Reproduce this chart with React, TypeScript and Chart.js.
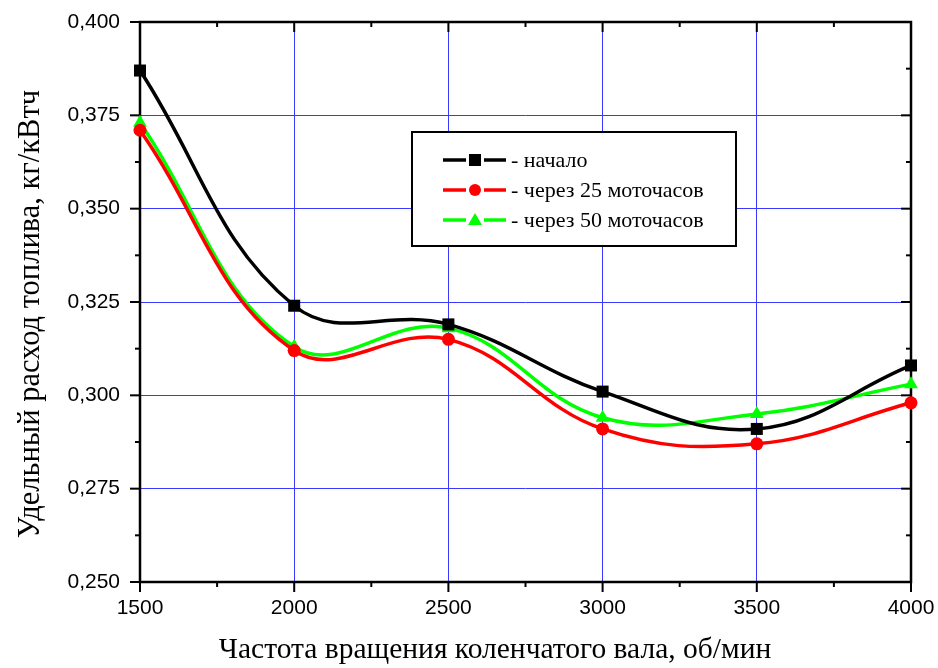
import React, { useEffect, useRef } from 'react';
import { Chart, registerables } from 'chart.js';

Chart.register(...registerables);

// ---- data ----
const rpm = [1500, 2000, 2500, 3000, 3500, 4000];
const seriesStart = [0.387, 0.324, 0.319, 0.301, 0.291, 0.308];
const series25 = [0.371, 0.312, 0.315, 0.291, 0.287, 0.298];
const series50 = [0.373, 0.313, 0.318, 0.294, 0.295, 0.303];
const seriesNames = ['- начало', '- через 25 моточасов', '- через 50 моточасов'];
const xTickValues = [1500, 2000, 2500, 3000, 3500, 4000];
const yTickValues = [0.25, 0.275, 0.3, 0.325, 0.35, 0.375, 0.4];
const xTitle = 'Частота вращения коленчатого вала, об/мин';
const yTitle = 'Удельный расход топлива, кг/кВтч';

const COLORS = ['#000000', '#ff0000', '#00ff00'];
const STYLES = ['rect', 'circle', 'triangle'];
const RADII = [8.5, 6.5, 8];

const framePlugin = {
  id: 'frame',
  beforeDatasetsDraw(chart: any) {
    const { ctx, chartArea: a, scales } = chart;
    const xs = scales.x;
    const ys = scales.y;
    ctx.save();
    ctx.strokeStyle = '#000';
    ctx.lineCap = 'butt';
    const seg = (x1: number, y1: number, x2: number, y2: number) => {
      ctx.beginPath();
      ctx.moveTo(x1, y1);
      ctx.lineTo(x2, y2);
      ctx.stroke();
    };
    const MAJ = 10;
    const MIN = 5;
    ctx.lineWidth = 2;
    xTickValues.forEach((v, i) => {
      const px = xs.getPixelForValue(v);
      seg(px, a.bottom, px, a.bottom + MAJ);
      seg(px, a.top, px, a.top + MAJ);
      if (i < xTickValues.length - 1) {
        const mp = xs.getPixelForValue((v + xTickValues[i + 1]) / 2);
        seg(mp, a.bottom, mp, a.bottom + MIN);
        seg(mp, a.top, mp, a.top + MIN);
      }
    });
    yTickValues.forEach((v, i) => {
      const py = ys.getPixelForValue(v);
      seg(a.left - MAJ, py, a.left, py);
      seg(a.right - MAJ, py, a.right, py);
      if (i < yTickValues.length - 1) {
        const mp = ys.getPixelForValue((v + yTickValues[i + 1]) / 2);
        seg(a.left - MIN, mp, a.left, mp);
        seg(a.right - MIN, mp, a.right, mp);
      }
    });
    ctx.lineWidth = 2.5;
    ctx.strokeRect(a.left, a.top, a.right - a.left, a.bottom - a.top);
    ctx.restore();
  },
  afterDraw(chart: any) {
    const { ctx } = chart;
    ctx.save();
    ctx.fillStyle = '#000';
    ctx.textAlign = 'center';
    ctx.textBaseline = 'middle';
    ctx.font = '29.5px "Liberation Serif", "Times New Roman", serif';
    ctx.fillText(xTitle, 495, 650);
    ctx.translate(31, 314);
    ctx.rotate(-Math.PI / 2);
    ctx.font = '30.5px "Liberation Serif", "Times New Roman", serif';
    ctx.fillText(yTitle, 0, 0);
    ctx.restore();

    // legend box
    ctx.save();
    const bx = 412, by = 132, bw = 324, bh = 114;
    ctx.fillStyle = '#fff';
    ctx.fillRect(bx, by, bw, bh);
    ctx.strokeStyle = '#000';
    ctx.lineWidth = 2;
    ctx.strokeRect(bx, by, bw, bh);
    const rows = [160, 190, 220];
    ctx.font = '22px "Liberation Serif", "Times New Roman", serif';
    ctx.textBaseline = 'middle';
    ctx.textAlign = 'left';
    rows.forEach((ry, i) => {
      ctx.strokeStyle = COLORS[i];
      ctx.fillStyle = COLORS[i];
      ctx.lineWidth = 3.5;
      ctx.beginPath();
      ctx.moveTo(443, ry);
      ctx.lineTo(466, ry);
      ctx.moveTo(484, ry);
      ctx.lineTo(506, ry);
      ctx.stroke();
      ctx.beginPath();
      if (i === 0) {
        ctx.rect(469, ry - 6, 12, 12);
      } else if (i === 1) {
        ctx.arc(475, ry, 6, 0, Math.PI * 2);
      } else {
        ctx.moveTo(475, ry - 7);
        ctx.lineTo(482, ry + 5);
        ctx.lineTo(468, ry + 5);
        ctx.closePath();
      }
      ctx.fill();
      ctx.fillStyle = '#000';
      ctx.fillText(seriesNames[i], 511, ry + 1);
    });
    ctx.restore();
  },
};

export default function App() {
  const ref = useRef<HTMLCanvasElement>(null);
  useEffect(() => {
    document.body.style.margin = '0';
    const canvas = ref.current!;
    const all = [seriesStart, series25, series50];
    const chart = new Chart(canvas, {
      type: 'line',
      data: {
        datasets: all.map((vals, i) => ({
          label: seriesNames[i],
          data: rpm.map((x, j) => ({ x, y: vals[j] })),
          borderColor: COLORS[i],
          backgroundColor: COLORS[i],
          pointBackgroundColor: COLORS[i],
          pointBorderColor: COLORS[i],
          pointBorderWidth: 0,
          pointStyle: STYLES[i] as any,
          pointRadius: RADII[i],
          borderWidth: 3.5,
          tension: 0.4,
          fill: false,
          clip: false as any,
        })),
      },
      options: {
        animation: false,
        responsive: false,
        devicePixelRatio: 1,
        layout: { padding: { top: 22, right: 27, left: 0, bottom: 0 } },
        plugins: { legend: { display: false }, tooltip: { enabled: false } },
        scales: {
          x: {
            type: 'linear',
            min: 1500,
            max: 4000,
            afterBuildTicks: (s: any) => {
              s.ticks = xTickValues.map((v) => ({ value: v }));
            },
            afterFit: (s: any) => {
              s.height = 86;
              s.paddingLeft = 0;
              s.paddingRight = 0;
              s.paddingTop = 0;
              s.paddingBottom = 0;
            },
            grid: {
              color: (c: any) =>
                c.tick && (c.tick.value === 1500 || c.tick.value === 4000) ? 'rgba(0,0,0,0)' : '#3a3aff',
              lineWidth: 1,
              drawTicks: false,
            },
            border: { display: false },
            ticks: {
              padding: 14,
              color: '#000',
              font: { family: '"Liberation Sans", Arial, sans-serif', size: 21 },
              maxRotation: 0,
              callback: (v: any) => String(v),
            },
          },
          y: {
            type: 'linear',
            min: 0.25,
            max: 0.4,
            afterBuildTicks: (s: any) => {
              s.ticks = yTickValues.map((v) => ({ value: v }));
            },
            afterFit: (s: any) => {
              s.width = 140;
              s.paddingLeft = 0;
              s.paddingRight = 0;
              s.paddingTop = 0;
              s.paddingBottom = 0;
            },
            grid: {
              color: (c: any) =>
                c.tick && (c.tick.value === 0.25 || c.tick.value === 0.4) ? 'rgba(0,0,0,0)' : '#3a3aff',
              lineWidth: 1,
              drawTicks: false,
            },
            border: { display: false },
            ticks: {
              padding: 20,
              color: '#000',
              font: { family: '"Liberation Sans", Arial, sans-serif', size: 21 },
              callback: (v: any) => Number(v).toFixed(3).replace('.', ','),
            },
          },
        },
      },
      plugins: [framePlugin],
    });
    return () => chart.destroy();
  }, []);
  return (
    <div style={{ position: 'absolute', left: 0, top: 0, width: 938, height: 668, background: '#fff' }}>
      <canvas ref={ref} width={938} height={668} style={{ display: 'block' }} />
    </div>
  );
}
